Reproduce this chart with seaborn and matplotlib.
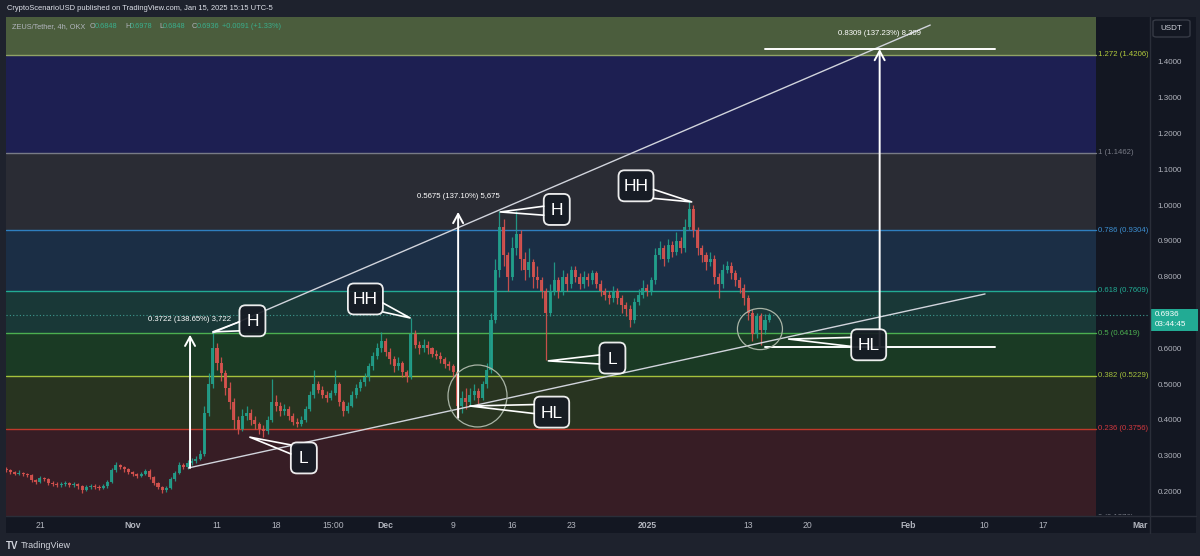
import numpy as np
import pandas as pd
import matplotlib
matplotlib.use("Agg")
import matplotlib.pyplot as plt
import seaborn as sns
from matplotlib.patches import Rectangle, Ellipse, FancyBboxPatch
from matplotlib.transforms import IdentityTransform
from matplotlib.lines import Line2D

W, H, DPI = 1200, 556, 100

# ---------------- data ----------------
bar_start = "2024-10-17 00:00"
bar_freq = "12h"
axis_origin = "2024-10-21"
first_open = 0.262

close = [0.260, 0.255, 0.250, 0.252, 0.248, 0.245, 0.232, 0.228, 0.238, 0.235,
         0.225, 0.222, 0.218, 0.220, 0.223, 0.218, 0.221, 0.215, 0.205, 0.212,
         0.216, 0.213, 0.210, 0.215, 0.228, 0.260, 0.275, 0.268, 0.262, 0.255,
         0.248, 0.243, 0.250, 0.258, 0.240, 0.225, 0.212, 0.205, 0.210, 0.235,
         0.252, 0.275, 0.268, 0.280, 0.285, 0.292, 0.305, 0.420, 0.500, 0.600,
         0.560, 0.530, 0.490, 0.450, 0.400, 0.375, 0.410, 0.420, 0.400, 0.390,
         0.375, 0.370, 0.400, 0.450, 0.440, 0.425, 0.430, 0.410, 0.395, 0.390,
         0.400, 0.430, 0.470, 0.500, 0.485, 0.470, 0.460, 0.475, 0.500, 0.450,
         0.425, 0.440, 0.470, 0.490, 0.505, 0.520, 0.550, 0.580, 0.600, 0.620,
         0.590, 0.570, 0.550, 0.560, 0.535, 0.520, 0.640, 0.610, 0.600, 0.610,
         0.600, 0.585, 0.580, 0.570, 0.555, 0.550, 0.535, 0.440, 0.460, 0.450,
         0.470, 0.480, 0.460, 0.500, 0.540, 0.680, 0.820, 0.940, 0.860, 0.800,
         0.880, 0.920, 0.850, 0.820, 0.840, 0.800, 0.790, 0.760, 0.700, 0.760,
         0.790, 0.760, 0.800, 0.780, 0.820, 0.800, 0.780, 0.800, 0.790, 0.810,
         0.780, 0.760, 0.750, 0.740, 0.760, 0.740, 0.720, 0.710, 0.680, 0.730,
         0.750, 0.770, 0.760, 0.790, 0.860, 0.880, 0.850, 0.890, 0.870, 0.900,
         0.880, 0.940, 0.990, 0.930, 0.880, 0.860, 0.840, 0.850, 0.800, 0.780,
         0.820, 0.830, 0.810, 0.790, 0.770, 0.740, 0.700, 0.640, 0.690, 0.650,
         0.680, 0.6936]
high = [0.268, 0.264, 0.258, 0.260, 0.256, 0.252, 0.248, 0.236, 0.243, 0.242,
        0.238, 0.229, 0.226, 0.226, 0.229, 0.227, 0.226, 0.224, 0.218, 0.217,
        0.221, 0.220, 0.217, 0.220, 0.233, 0.266, 0.283, 0.278, 0.272, 0.266,
        0.258, 0.252, 0.255, 0.264, 0.262, 0.244, 0.228, 0.215, 0.216, 0.240,
        0.258, 0.282, 0.280, 0.288, 0.294, 0.300, 0.315, 0.440, 0.530, 0.645,
        0.615, 0.575, 0.540, 0.505, 0.460, 0.410, 0.430, 0.440, 0.430, 0.410,
        0.395, 0.385, 0.410, 0.515, 0.470, 0.450, 0.445, 0.440, 0.420, 0.405,
        0.410, 0.440, 0.480, 0.540, 0.510, 0.495, 0.480, 0.485, 0.540, 0.505,
        0.455, 0.450, 0.480, 0.500, 0.515, 0.530, 0.560, 0.590, 0.615, 0.645,
        0.630, 0.600, 0.580, 0.575, 0.565, 0.540, 0.685, 0.650, 0.620, 0.625,
        0.620, 0.605, 0.595, 0.590, 0.575, 0.565, 0.555, 0.540, 0.480, 0.490,
        0.490, 0.500, 0.490, 0.510, 0.560, 0.700, 0.850, 0.985, 0.960, 0.870,
        0.910, 0.985, 0.930, 0.870, 0.880, 0.850, 0.830, 0.800, 0.770, 0.780,
        0.840, 0.800, 0.820, 0.810, 0.830, 0.830, 0.810, 0.815, 0.810, 0.820,
        0.815, 0.790, 0.770, 0.760, 0.775, 0.770, 0.750, 0.730, 0.720, 0.740,
        0.765, 0.790, 0.780, 0.800, 0.880, 0.900, 0.890, 0.905, 0.900, 0.925,
        0.910, 0.960, 1.015, 1.000, 0.940, 0.890, 0.870, 0.870, 0.860, 0.810,
        0.835, 0.845, 0.840, 0.820, 0.800, 0.780, 0.750, 0.710, 0.700, 0.700,
        0.695, 0.6978]
low = [0.254, 0.250, 0.245, 0.246, 0.243, 0.240, 0.226, 0.222, 0.225, 0.229,
       0.219, 0.216, 0.212, 0.214, 0.216, 0.213, 0.214, 0.208, 0.196, 0.201,
       0.207, 0.208, 0.205, 0.206, 0.211, 0.225, 0.255, 0.262, 0.256, 0.250,
       0.243, 0.238, 0.240, 0.246, 0.235, 0.219, 0.206, 0.196, 0.200, 0.206,
       0.230, 0.248, 0.262, 0.264, 0.274, 0.280, 0.288, 0.300, 0.410, 0.490,
       0.540, 0.510, 0.470, 0.430, 0.375, 0.360, 0.370, 0.400, 0.385, 0.375,
       0.360, 0.352, 0.360, 0.395, 0.425, 0.410, 0.415, 0.400, 0.385, 0.380,
       0.382, 0.395, 0.425, 0.460, 0.475, 0.460, 0.450, 0.455, 0.470, 0.440,
       0.410, 0.420, 0.435, 0.460, 0.480, 0.495, 0.510, 0.540, 0.570, 0.590,
       0.580, 0.555, 0.535, 0.540, 0.520, 0.505, 0.515, 0.600, 0.585, 0.590,
       0.585, 0.575, 0.570, 0.560, 0.545, 0.540, 0.520, 0.405, 0.420, 0.430,
       0.440, 0.455, 0.445, 0.455, 0.490, 0.530, 0.670, 0.800, 0.830, 0.760,
       0.790, 0.860, 0.820, 0.790, 0.800, 0.770, 0.770, 0.740, 0.567, 0.690,
       0.750, 0.740, 0.750, 0.760, 0.770, 0.785, 0.765, 0.770, 0.775, 0.780,
       0.770, 0.745, 0.735, 0.725, 0.730, 0.725, 0.700, 0.690, 0.660, 0.670,
       0.720, 0.740, 0.745, 0.750, 0.780, 0.850, 0.830, 0.840, 0.855, 0.860,
       0.865, 0.870, 0.930, 0.910, 0.860, 0.840, 0.820, 0.830, 0.780, 0.740,
       0.770, 0.810, 0.795, 0.775, 0.755, 0.720, 0.680, 0.620, 0.630, 0.610,
       0.640, 0.675]

tick_dates = ["2024-10-21 00:00", "2024-11-01 00:00", "2024-11-11 00:00", "2024-11-18 00:00",
              "2024-11-24 19:00", "2024-12-01 00:00", "2024-12-09 00:00", "2024-12-16 00:00",
              "2024-12-23 00:00", "2025-01-01 00:00", "2025-01-13 00:00", "2025-01-20 00:00",
              "2025-02-01 00:00", "2025-02-10 00:00", "2025-02-17 00:00", "2025-02-28 12:00"]
tick_labels = ["21", "Nov", "11", "18", "15:00", "Dec", "9", "16", "23", "2025",
               "13", "20", "Feb", "10", "17", "Mar"]
bold_labels = ["Nov", "Dec", "2025", "Feb", "Mar"]
# 0.7000 sits under the live price tag in the reference
price_ticks = [0.2, 0.3, 0.4, 0.5, 0.6, 0.8, 0.9, 1.0, 1.1, 1.2, 1.3, 1.4]

fib_ratios = ["1.272", "1", "0.786", "0.618", "0.5", "0.382", "0.236", "0"]
fib_prices = [1.4206, 1.1462, 0.9304, 0.7609, 0.6419, 0.5229, 0.3756, 0.1276]
fib_top = 1.7757
fib_zone_colors = ["#4b5d3d", "#1d1f52", "#2a2c34", "#1b2e45", "#193837",
                   "#1a3a24", "#283420", "#371d25"]
fib_line_colors = ["#90a266", "#787b86", "#2f7fbf", "#22ab94", "#4caf50",
                   "#a5c13c", "#c0392b", "#787b86"]
fib_label_colors = ["#b4cc3c", "#787b86", "#3d8fd1", "#22ab94", "#4caf50",
                    "#a5c13c", "#d1383f", "#787b86"]

# trend lines: x in days since Oct 21, y price
upper_line_x = [20.5, 105.6]
upper_line_y = [0.643, 1.503]
lower_line_x = [17.6, 112.1]
lower_line_y = [0.266, 0.752]

measure_x = [17.8, 49.6, 99.6]
measure_from = [0.266, 0.406, 0.607]
measure_to = [0.638, 0.981, 1.436]
measure_text = ["0.3722 (138.65%) 3,722", "0.5675 (137.10%) 5,675", "0.8309 (137.23%) 8,309"]
hline_prices = [1.436, 0.604]
hline_x = [86.0, 113.3]

callout_text = ["H", "HH", "H", "HH", "L", "HL", "L", "HL"]
callout_box = [(25.2, 0.677), (38.6, 0.738), (61.3, 0.988), (70.7, 1.054),
               (31.3, 0.294), (60.7, 0.422), (67.9, 0.573), (98.3, 0.610)]
callout_tip = [(20.5, 0.646), (43.9, 0.685), (54.6, 0.981), (77.3, 1.009),
               (24.9, 0.352), (51.0, 0.439), (60.3, 0.565), (88.8, 0.626)]

ellipse_center = [(51.9, 0.467), (85.4, 0.654)]
ellipse_w = [7.0, 5.34]
ellipse_h = [0.173, 0.115]

last_price = 0.6936

# ---------------- style ----------------
sns.set_theme(style="dark")
plt.rcParams['font.family'] = ['Liberation Sans', 'DejaVu Sans']

BG = "#131722"
FRAME = "#1e222d"
TXT = "#b2b5be"
UP, DOWN = "#22a08c", "#d9534f"

fig = plt.figure(figsize=(W / DPI, H / DPI), dpi=DPI, facecolor=FRAME)

def fy(ypx):
    return (H - ypx) / H

fig.add_artist(Rectangle((6 / W, fy(533)), (1196 - 6) / W, (533 - 17) / H,
                         transform=fig.transFigure, facecolor=BG, edgecolor="none", zorder=0))

L_PX, R_PX, T_PX, B_PX = 6, 1148, 17, 515
ax = fig.add_axes([L_PX / W, fy(B_PX), (R_PX - L_PX) / W, (B_PX - T_PX) / H])
ax.set_facecolor("none")
xmin, xmax = -4.03, 131.43
ymin, ymax = 0.1346, 1.5255
ax.set_xlim(xmin, xmax)
ax.set_ylim(ymin, ymax)
for s in ax.spines.values():
    s.set_visible(False)
ax.grid(False)

fib_end = 125.3
bounds = [fib_top] + fib_prices
for k, col in enumerate(fib_zone_colors):
    ax.fill_between([xmin, fib_end], bounds[k + 1], bounds[k], color=col, lw=0, zorder=1)
for p, r, lc, tc in zip(fib_prices, fib_ratios, fib_line_colors, fib_label_colors):
    ax.plot([xmin, fib_end], [p, p], color=lc, lw=1.0, zorder=2)
    ax.text(fib_end + 0.25, p, f"{r} ({p:.4f})", color=tc, fontsize=5.6,
            va="center", ha="left", zorder=3, clip_on=True)

# candles
times = pd.date_range(bar_start, periods=len(close), freq=bar_freq)
xs = ((times - pd.Timestamp(axis_origin)) / pd.Timedelta(days=1)).to_numpy()
c = np.array(close)
o = np.array([first_open] + close[:-1])
hi = np.array(high)
lo = np.array(low)
cols = [UP if cc >= oo else DOWN for cc, oo in zip(c, o)]
ax.vlines(xs, lo, hi, colors=cols, lw=0.9, zorder=4, alpha=0.9)
ax.bar(xs, np.maximum(np.abs(c - o), 0.002), bottom=np.minimum(c, o), width=0.36,
       color=cols, lw=0, zorder=4, alpha=0.9)

# current price dotted line
ax.axhline(last_price, color="#3d9a8e", lw=0.8, ls=(0, (1, 2)), zorder=3)

# trend lines
sns.lineplot(x=upper_line_x, y=upper_line_y, ax=ax, color="#d1d4dc", lw=1.0, zorder=5)
sns.lineplot(x=lower_line_x, y=lower_line_y, ax=ax, color="#d1d4dc", lw=1.0, zorder=5)
for hp in hline_prices:
    sns.lineplot(x=hline_x, y=[hp, hp], ax=ax, color="white", lw=1.4, zorder=5)

# measurement arrows
for mx, m0, m1, mt in zip(measure_x, measure_from, measure_to, measure_text):
    ax.annotate("", xy=(mx, m1), xytext=(mx, m0),
                arrowprops=dict(arrowstyle="->,head_length=0.55,head_width=0.3",
                                color="white", lw=1.4, shrinkA=0, shrinkB=0), zorder=6)
    ax.annotate(mt, xy=(mx, m1), xytext=(0, 12), textcoords="offset pixels",
                ha="center", va="bottom", fontsize=5.6, color="white", zorder=6)

# ellipses
for (ex, ey), ew, eh in zip(ellipse_center, ellipse_w, ellipse_h):
    ax.add_patch(Ellipse((ex, ey), ew, eh, fill=False, ec="#a9b4a6", lw=0.9, zorder=6))

# callouts (boxes with pointer)
ident = IdentityTransform()
for txt, (bx, by), (tx, ty) in zip(callout_text, callout_box, callout_tip):
    cx, cy = ax.transData.transform((bx, by))
    px, py = ax.transData.transform((tx, ty))
    w = 26 if len(txt) == 1 else 35
    h = 31
    x0, y0 = cx - w / 2, cy - h / 2
    box = FancyBboxPatch((x0, y0), w, h, boxstyle="round,pad=0,rounding_size=6",
                         transform=ident, fc="#161b24", ec="white", lw=1.3,
                         alpha=0.92, zorder=7)
    ax.add_patch(box)
    edge = x0 if px < cx else x0 + w
    bc = cy + np.clip((py - cy) * 0.5, -h / 2 + 7, h / 2 - 7)
    ax.add_line(Line2D([edge, px, edge], [bc + 4.5, py, bc - 4.5], transform=ident,
                       color="white", lw=1.2, zorder=7))
    ax.text(cx, cy - 1, txt, transform=ident, ha="center", va="center",
            fontsize=12.5, color="white", zorder=8)

# axes ticks
ax.yaxis.tick_right()
ax.set_yticks(price_ticks)
ax.set_yticklabels([f"{p:.4f}" for p in price_ticks])
ax.tick_params(axis="y", length=0, pad=7, labelsize=5.8, labelcolor=TXT)
tick_x = ((pd.to_datetime(tick_dates, format="%Y-%m-%d %H:%M") - pd.Timestamp(axis_origin))
          / pd.Timedelta(days=1)).to_numpy()
ax.set_xticks(tick_x)
ax.set_xticklabels(tick_labels)
ax.tick_params(axis="x", length=0, pad=4.5, labelsize=6.2, labelcolor=TXT)
for lab in ax.get_xticklabels():
    if lab.get_text() in bold_labels:
        lab.set_fontweight("bold")
ax.set_xlabel("")
ax.set_ylabel("")

# separators
fig.add_artist(Line2D([1149.5 / W, 1149.5 / W], [fy(533), fy(17)], transform=fig.transFigure,
                      color="#2a2e39", lw=1))
fig.add_artist(Line2D([6 / W, 1196 / W], [fy(515.5), fy(515.5)], transform=fig.transFigure,
                      color="#2a2e39", lw=1))

# USDT box
fig.add_artist(FancyBboxPatch((1153 / W, fy(37)), 37 / W, 17 / H,
                              boxstyle="round,pad=0,rounding_size=0.003",
                              transform=fig.transFigure, fc=BG, ec="#363a45", lw=1))
fig.text(1171.5 / W, fy(28.5), "USDT", color="#d1d4dc", fontsize=5.8, ha="center", va="center")

# price tag
fig.add_artist(Rectangle((1151 / W, fy(331)), 47 / W, 22 / H, transform=fig.transFigure,
                         fc="#22ab94", ec="none"))
fig.text(1155 / W, fy(314.5), f"{last_price:.4f}", color="white", fontsize=5.8, va="center")
fig.text(1155 / W, fy(325), "03:44:45", color="white", fontsize=5.8, va="center")

# header texts
fig.text(7 / W, fy(9), "CryptoScenarioUSD published on TradingView.com, Jan 15, 2025 15:15 UTC-5",
         color="#e0e3eb", fontsize=5.45, va="center")
teal = "#3aae8c"
grey = "#b2b5be"
pieces = [("ZEUS/Tether, 4h, OKX", 12, grey), ("O", 90, grey), ("0.6848", 95, teal),
          ("H", 125, grey), ("0.6978", 130, teal), ("L", 159, grey), ("0.6848", 163, teal),
          ("C", 192, grey), ("0.6936", 197, teal), ("+0.0091 (+1.33%)", 222, teal)]
for t, xp, colr in pieces:
    fig.text(xp / W, fy(27), t, color=colr, fontsize=5.3, va="center")

# footer
fig.text(6 / W, fy(546), "TV", color="#d1d4dc", fontsize=7, fontweight="bold", va="center")
fig.text(21 / W, fy(546), "TradingView", color="#d1d4dc", fontsize=6.5, va="center")

fig.savefig("out.png", dpi=DPI, facecolor=FRAME)
